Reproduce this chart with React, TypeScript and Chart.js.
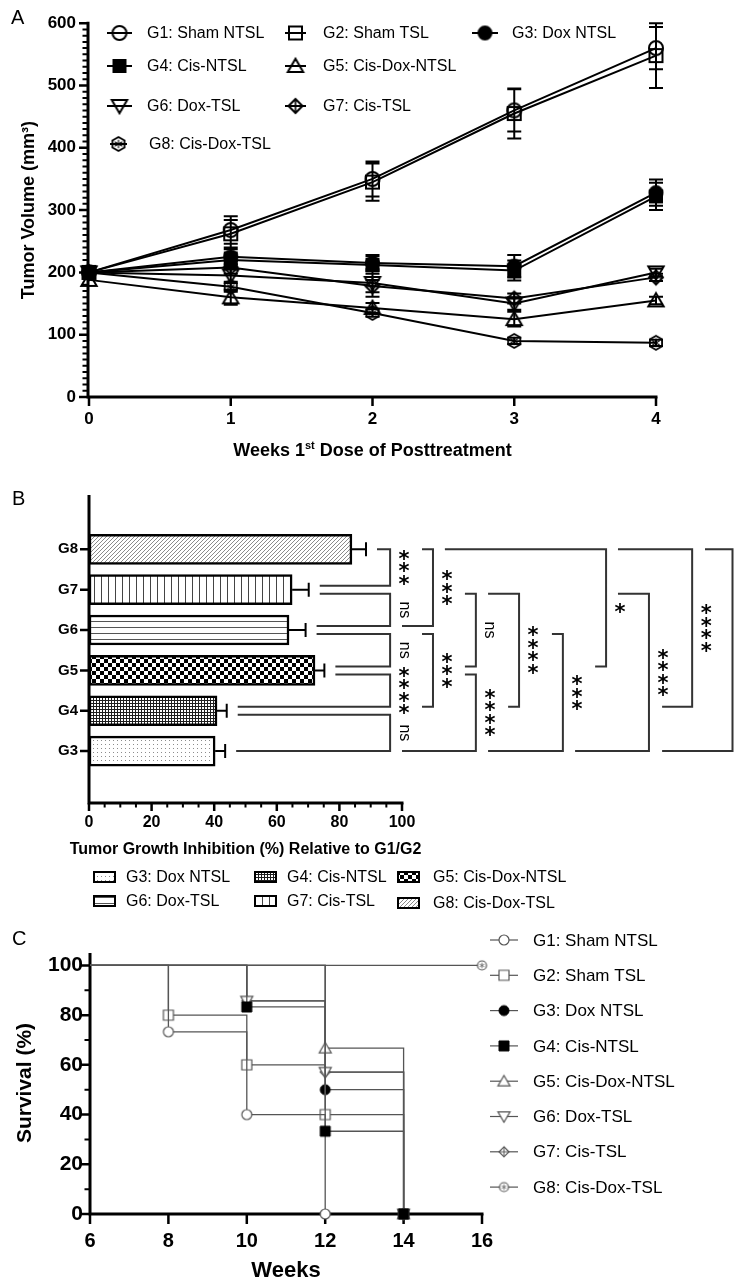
import React, { useEffect, useRef } from "react";
import { Chart, registerables } from "chart.js";

Chart.register(...registerables);

const FONT = "'Liberation Sans', Arial, Helvetica, sans-serif";

// ---------------- Panel A: tumor volume ----------------
const groupNames = [
  "G1: Sham NTSL",
  "G2: Sham TSL",
  "G3: Dox NTSL",
  "G4: Cis-NTSL",
  "G5: Cis-Dox-NTSL",
  "G6: Dox-TSL",
  "G7: Cis-TSL",
  "G8: Cis-Dox-TSL",
];
const weeksA = [0, 1, 2, 3, 4];
const volumeTicks = [0, 100, 200, 300, 400, 500, 600];
const volumeMinorStep = 10;
const volG1 = [200, 268, 350, 460, 560];
const volG2 = [200, 262, 345, 455, 548];
const volG3 = [200, 225, 215, 210, 328];
const volG4 = [200, 220, 212, 203, 322];
const volG5 = [188, 160, 143, 125, 155];
const volG6 = [200, 195, 183, 150, 200];
const volG7 = [200, 208, 178, 158, 192];
const volG8 = [200, 177, 135, 90, 87];
const semG1 = [0, 22, 28, 34, 34];
const semG2 = [0, 22, 30, 40, 52];
const semG3 = [0, 12, 13, 18, 21];
const semG4 = [0, 12, 14, 16, 22];
const semG5 = [0, 12, 8, 12, 6];
const semG6 = [0, 12, 22, 10, 6];
const semG7 = [0, 10, 10, 8, 6];
const semG8 = [0, 8, 6, 5, 5];

// ---------------- Panel B: tumor growth inhibition ----------------
const tgiGroups = ["G3", "G4", "G5", "G6", "G7", "G8"];
const tgiValues = [40.3, 40.9, 72.2, 63.9, 64.9, 84.0];
const tgiErrors = [3.2, 3.1, 3.0, 5.3, 5.3, 4.5];
const tgiTicks = [0, 20, 40, 60, 80, 100];
const tgiMinorStep = 5;
const tgiLegend = [
  "G3: Dox NTSL",
  "G4: Cis-NTSL",
  "G5: Cis-Dox-NTSL",
  "G6: Dox-TSL",
  "G7: Cis-TSL",
  "G8: Cis-Dox-TSL",
];
const sigTop = ["G8", "G7", "G6", "G5", "G4", "G8", "G6", "G7", "G5", "G7", "G6", "G8", "G7", "G8", "G8"];
const sigBottom = ["G7", "G6", "G5", "G4", "G3", "G6", "G4", "G5", "G3", "G4", "G3", "G5", "G3", "G4", "G3"];
const sigLabels = ["***", "ns", "ns", "****", "ns", "***", "***", "ns", "****", "****", "***", "*", "****", "****", "****"];

// ---------------- Panel C: survival ----------------
const survivalTicks = [0, 20, 40, 60, 80, 100];
const survivalMinorStep = 10;
const weekTicksC = [6, 8, 10, 12, 14, 16];
const survWeeksG1 = [6, 8, 10, 12];
const survG1 = [100, 73.3, 40, 0];
const survWeeksG2 = [6, 8, 10, 12, 14];
const survG2 = [100, 80, 60, 40, 0];
const survWeeksG3 = [6, 12, 14];
const survG3 = [100, 50, 0];
const survWeeksG4 = [6, 10, 12, 14];
const survG4 = [100, 83.3, 33.3, 0];
const survWeeksG5 = [6, 12, 14];
const survG5 = [100, 66.7, 0];
const survWeeksG6 = [6, 10, 12, 14];
const survG6 = [100, 85.7, 57.1, 0];
const survWeeksG7 = [6, 10, 12, 14];
const survG7 = [100, 85.7, 57.1, 0];
const survWeeksG8 = [6, 16];
const survG8 = [100, 100];

// ---------------- helpers ----------------
function makeMarker(kind: string, d: number, stroke: string, fill: string | null, lw: number): HTMLCanvasElement {
  const S = Math.round(d + lw * 2 + 4);
  const c = document.createElement("canvas");
  c.width = S;
  c.height = S;
  const g = c.getContext("2d")!;
  const cx = S / 2, cy = S / 2, r = d / 2;
  g.lineWidth = lw;
  g.strokeStyle = stroke;
  g.lineJoin = "miter";
  g.beginPath();
  switch (kind) {
    case "circle":
    case "circleStar":
      g.arc(cx, cy, r, 0, Math.PI * 2);
      break;
    case "square":
      g.rect(cx - r, cy - r, d, d);
      break;
    case "triUp":
      g.moveTo(cx, cy - r * 1.05);
      g.lineTo(cx + r * 1.1, cy + r * 0.85);
      g.lineTo(cx - r * 1.1, cy + r * 0.85);
      g.closePath();
      break;
    case "triDown":
      g.moveTo(cx, cy + r * 1.05);
      g.lineTo(cx + r * 1.1, cy - r * 0.85);
      g.lineTo(cx - r * 1.1, cy - r * 0.85);
      g.closePath();
      break;
    case "diamondCross":
      g.moveTo(cx, cy - r);
      g.lineTo(cx + r, cy);
      g.lineTo(cx, cy + r);
      g.lineTo(cx - r, cy);
      g.closePath();
      break;
    case "hexStar":
      for (let k = 0; k < 6; k++) {
        const a = Math.PI / 6 + (k * Math.PI) / 3;
        const px = cx + r * Math.cos(a), py = cy + r * Math.sin(a);
        if (k) g.lineTo(px, py);
        else g.moveTo(px, py);
      }
      g.closePath();
      break;
  }
  if (fill) {
    g.fillStyle = fill;
    g.fill();
  }
  g.stroke();
  if (kind === "diamondCross") {
    g.beginPath();
    g.lineWidth = lw * 0.8;
    g.moveTo(cx, cy - r);
    g.lineTo(cx, cy + r);
    g.moveTo(cx - r, cy);
    g.lineTo(cx + r, cy);
    g.stroke();
  }
  if (kind === "hexStar" || kind === "circleStar") {
    g.beginPath();
    g.lineWidth = lw * 0.6;
    for (let k = 0; k < 3; k++) {
      const a = Math.PI / 2 + (k * Math.PI) / 3;
      const q = r * 0.62;
      g.moveTo(cx - q * Math.cos(a), cy - q * Math.sin(a));
      g.lineTo(cx + q * Math.cos(a), cy + q * Math.sin(a));
    }
    g.stroke();
  }
  return c;
}

function makeTile(kind: string): HTMLCanvasElement {
  const c = document.createElement("canvas");
  const g = c.getContext("2d")!;
  const bg = (w: number, h: number) => {
    c.width = w;
    c.height = h;
    g.fillStyle = "#fff";
    g.fillRect(0, 0, w, h);
  };
  switch (kind) {
    case "dots":
      bg(4, 4);
      g.fillStyle = "#8c8c8c";
      g.fillRect(1, 1, 1, 1);
      break;
    case "mesh":
      bg(3, 3);
      g.fillStyle = "#1e1e1e";
      g.fillRect(0, 0, 3, 1);
      g.fillRect(0, 0, 1, 3);
      break;
    case "check":
      bg(8, 8);
      g.fillStyle = "#000";
      g.fillRect(0, 0, 4, 4);
      g.fillRect(4, 4, 4, 4);
      break;
    case "hlines":
      bg(4, 6);
      g.fillStyle = "#555";
      g.fillRect(0, 2, 4, 1);
      break;
    case "vlines":
      bg(7, 4);
      g.fillStyle = "#444";
      g.fillRect(3, 0, 1, 4);
      break;
    case "diag":
      bg(4, 4);
      g.fillStyle = "#8a8a8a";
      for (let i = 0; i < 4; i++) g.fillRect(i, 3 - i, 1, 1);
      break;
  }
  return c;
}

function strokeLines(ctx: CanvasRenderingContext2D, segs: number[][], lw: number, color: string) {
  ctx.save();
  ctx.strokeStyle = color;
  ctx.lineWidth = lw;
  ctx.lineCap = "butt";
  ctx.beginPath();
  for (const [x1, y1, x2, y2] of segs) {
    ctx.moveTo(x1, y1);
    ctx.lineTo(x2, y2);
  }
  ctx.stroke();
  ctx.restore();
}

function drawText(ctx: CanvasRenderingContext2D, text: string, x: number, y: number, font: string, align: CanvasTextAlign = "left", baseline: CanvasTextBaseline = "middle", rot = 0) {
  ctx.save();
  ctx.font = font;
  ctx.fillStyle = "#000";
  ctx.textAlign = align;
  ctx.textBaseline = baseline;
  ctx.translate(x, y);
  if (rot) ctx.rotate(rot);
  ctx.fillText(text, 0, 0);
  ctx.restore();
}

function drawMarker(ctx: CanvasRenderingContext2D, m: HTMLCanvasElement, x: number, y: number) {
  ctx.drawImage(m, x - m.width / 2, y - m.height / 2);
}

function minorValues(first: number, last: number, step: number) {
  const out: number[] = [];
  for (let v = first; v <= last + 1e-9; v += step) out.push(Math.round(v * 1000) / 1000);
  return out;
}

// ---------------- Panel A ----------------
const LEG_A = [
  { x0: 107, x1: 132, tx: 147, y: 33 },
  { x0: 285, x1: 306, tx: 323, y: 33 },
  { x0: 472, x1: 498, tx: 512, y: 33 },
  { x0: 107, x1: 132, tx: 147, y: 66 },
  { x0: 285, x1: 306, tx: 323, y: 66 },
  { x0: 107, x1: 132, tx: 147, y: 106 },
  { x0: 285, x1: 306, tx: 323, y: 106 },
  { x0: 110, x1: 127, tx: 149, y: 144 },
];

function buildA(canvas: HTMLCanvasElement): any {
  const vols = [volG1, volG2, volG3, volG4, volG5, volG6, volG7, volG8];
  const sems = [semG1, semG2, semG3, semG4, semG5, semG6, semG7, semG8];
  const markers = [
    makeMarker("circle", 14, "#000", null, 2),
    makeMarker("square", 13, "#000", null, 2),
    makeMarker("circle", 13, "#000", "#000", 2),
    makeMarker("square", 12, "#000", "#000", 2),
    makeMarker("triUp", 14, "#000", null, 2),
    makeMarker("triDown", 14, "#000", null, 2),
    makeMarker("diamondCross", 14, "#000", null, 2),
    makeMarker("hexStar", 14, "#000", null, 1.8),
  ];
  const plugin = {
    id: "panelA",
    beforeDatasetsDraw(chart: any) {
      const { ctx, chartArea: ca } = chart;
      const x = chart.scales.x, y = chart.scales.y;
      const L = ca.left - 1, B = ca.bottom;
      strokeLines(ctx, [[L, ca.top - 1.5, L, B + 1.5], [L - 1.5, B, ca.right + 1.5, B]], 3, "#000");
      const major: number[][] = [], minor: number[][] = [];
      minorValues(volumeTicks[0], volumeTicks[volumeTicks.length - 1], volumeMinorStep).forEach((v) => {
        const py = y.getPixelForValue(v);
        if (volumeTicks.includes(v)) major.push([L - 9, py, L, py]);
        else minor.push([L - 5.5, py, L, py]);
      });
      strokeLines(ctx, major, 2.5, "#000");
      strokeLines(ctx, minor, 2, "#000");
      strokeLines(ctx, weeksA.map((w) => { const px = x.getPixelForValue(w); return [px, B, px, B + 9]; }), 2.5, "#000");
      const eb: number[][] = [];
      vols.forEach((vals, i) =>
        vals.forEach((v, j) => {
          const s = sems[i][j];
          if (!s) return;
          const px = x.getPixelForValue(weeksA[j]);
          const t = y.getPixelForValue(v + s), b = y.getPixelForValue(v - s);
          eb.push([px, t, px, b], [px - 7, t, px + 7, t], [px - 7, b, px + 7, b]);
        })
      );
      strokeLines(ctx, eb, 2, "#000");
    },
    afterDraw(chart: any) {
      const { ctx, chartArea: ca } = chart;
      LEG_A.forEach((p, i) => {
        strokeLines(ctx, [[p.x0, p.y, p.x1, p.y]], 2, "#000");
        drawMarker(ctx, markers[i], (p.x0 + p.x1) / 2, p.y);
        drawText(ctx, groupNames[i], p.tx, p.y + 1, `16px ${FONT}`);
      });
      drawText(ctx, "Tumor Volume (mm³)", 29, (ca.top + ca.bottom) / 2, `bold 18px ${FONT}`, "center", "middle", -Math.PI / 2);
      ctx.save();
      ctx.fillStyle = "#000";
      ctx.textBaseline = "alphabetic";
      const big = `bold 18px ${FONT}`, small = `bold 11px ${FONT}`;
      const p1 = "Weeks 1", p2 = "st", p3 = " Dose of Posttreatment";
      ctx.font = big;
      const w1 = ctx.measureText(p1).width, w3 = ctx.measureText(p3).width;
      ctx.font = small;
      const w2 = ctx.measureText(p2).width;
      let sx = (ca.left + ca.right) / 2 - (w1 + w2 + w3) / 2;
      const by = 456;
      ctx.font = big;
      ctx.fillText(p1, sx, by);
      sx += w1;
      ctx.font = small;
      ctx.fillText(p2, sx, by - 7);
      sx += w2;
      ctx.font = big;
      ctx.fillText(p3, sx, by);
      ctx.restore();
      drawText(ctx, "A", 11, 24, `20px ${FONT}`, "left", "alphabetic");
    },
  };
  return {
    type: "line",
    data: {
      datasets: vols.map((v, i) => ({
        label: groupNames[i],
        data: v.map((val, j) => ({ x: weeksA[j], y: val })),
        borderColor: "#000",
        borderWidth: 2,
        pointStyle: markers[i],
        pointRadius: 7,
        clip: false,
        tension: 0,
      })),
    },
    options: {
      animation: false,
      responsive: false,
      events: [],
      layout: { padding: { left: 0, right: 78, top: 17, bottom: 0 } },
      scales: {
        x: {
          type: "linear",
          min: weeksA[0],
          max: weeksA[weeksA.length - 1],
          afterBuildTicks: (s: any) => { s.ticks = weeksA.map((v) => ({ value: v })); },
          afterFit: (s: any) => { s.height = 78; },
          grid: { display: false, drawTicks: false },
          border: { display: false },
          ticks: { font: { family: FONT, size: 17, weight: "bold" }, color: "#000", padding: 12 },
        },
        y: {
          type: "linear",
          min: volumeTicks[0],
          max: volumeTicks[volumeTicks.length - 1],
          afterBuildTicks: (s: any) => { s.ticks = volumeTicks.map((v) => ({ value: v })); },
          afterFit: (s: any) => { s.width = 89; },
          grid: { display: false, drawTicks: false },
          border: { display: false },
          ticks: { font: { family: FONT, size: 17, weight: "bold" }, color: "#000", padding: 13 },
        },
      },
      plugins: { legend: { display: false }, tooltip: { enabled: false } },
    },
    plugins: [plugin],
  };
}

// ---------------- Panel B ----------------
// bracket geometry in x-axis units: [column, top-arm start, bottom-arm start] (null = just past the error bar)
const BRACKET_GEOM: (number | null)[][] = [
  [96.2, null, null],
  [96.2, null, null],
  [96.2, null, null],
  [96.2, null, null],
  [96.2, null, null],
  [109.9, 106.4, 100],
  [109.9, 106.4, 106.4],
  [123.6, 120.1, 120.1],
  [123.6, 120.1, 100],
  [137.4, 127.5, 133.9],
  [151.4, 147.9, 127.5],
  [165.2, 113.7, 161.7],
  [178.9, 169, 155.3],
  [192.7, 169, 183.1],
  [205.6, 196.8, 183.1],
];
const LEG_B = [
  { x: 94, tx: 126, y: 402 },
  { x: 255, tx: 287, y: 402 },
  { x: 398, tx: 433, y: 402 },
  { x: 94, tx: 126, y: 426 },
  { x: 255, tx: 287, y: 426 },
  { x: 398, tx: 433, y: 428 },
];

function buildB(canvas: HTMLCanvasElement): any {
  const ctx0 = canvas.getContext("2d")!;
  const tiles = ["dots", "mesh", "check", "hlines", "vlines", "diag"].map(makeTile);
  const patterns = tiles.map((t) => ctx0.createPattern(t, "repeat")!);
  const plugin = {
    id: "panelB",
    beforeDatasetsDraw(chart: any) {
      const { ctx, chartArea: ca } = chart;
      const x = chart.scales.x, y = chart.scales.y;
      const L = ca.left, B = ca.bottom;
      strokeLines(ctx, [[L, ca.top, L, B + 1.5], [L - 1.5, B, ca.right + 1.5, B]], 3, "#000");
      strokeLines(ctx, tgiGroups.map((_, i) => { const py = y.getPixelForValue(i); return [L - 9, py, L, py]; }), 2.5, "#000");
      const major: number[][] = [], minor: number[][] = [];
      minorValues(tgiTicks[0], tgiTicks[tgiTicks.length - 1], tgiMinorStep).forEach((v) => {
        const px = x.getPixelForValue(v);
        if (tgiTicks.includes(v)) major.push([px, B, px, B + 8]);
        else minor.push([px, B, px, B + 4.5]);
      });
      strokeLines(ctx, major, 2.5, "#000");
      strokeLines(ctx, minor, 2, "#000");
    },
    afterDatasetsDraw(chart: any) {
      const { ctx } = chart;
      const x = chart.scales.x, y = chart.scales.y;
      const eb: number[][] = [];
      tgiValues.forEach((v, i) => {
        const py = y.getPixelForValue(i);
        const p0 = x.getPixelForValue(v), p1 = x.getPixelForValue(v + tgiErrors[i]);
        eb.push([p0, py, p1, py], [p1, py - 7, p1, py + 7]);
      });
      strokeLines(ctx, eb, 2, "#000");
      const yc = (g: string) => y.getPixelForValue(tgiGroups.indexOf(g));
      const errEnd = (g: string) => { const i = tgiGroups.indexOf(g); return x.getPixelForValue(tgiValues[i] + tgiErrors[i]) + 11; };
      const segs: number[][] = [];
      sigTop.forEach((t, i) => {
        const b = sigBottom[i];
        const [col, ts, bs] = BRACKET_GEOM[i];
        const cx = Math.min(x.getPixelForValue(col as number), chart.width - 1.5);
        const ty = yc(t) + (t === "G8" ? 0 : 4);
        const by = yc(b) - (b === "G3" ? 0 : 4);
        const tx0 = ts === null ? errEnd(t) : x.getPixelForValue(ts);
        const bx0 = bs === null ? errEnd(b) : x.getPixelForValue(bs);
        segs.push([tx0, ty, cx + 1, ty], [cx, ty, cx, by], [bx0, by, cx + 1, by]);
        const lx = cx + 14, ly = (ty + by) / 2;
        const lab = sigLabels[i];
        if (lab === "ns") {
          drawText(ctx, "ns", lx, ly, `16px ${FONT}`, "center", "middle", Math.PI / 2);
        } else {
          ctx.save();
          ctx.font = `bold 21px 'DejaVu Sans', sans-serif`;
          ctx.fillStyle = "#000";
          ctx.textAlign = "center";
          ctx.textBaseline = "alphabetic";
          const m = ctx.measureText("*");
          const off = (m.actualBoundingBoxAscent - m.actualBoundingBoxDescent) / 2;
          const n = lab.length, sp = 12.5;
          for (let k = 0; k < n; k++) {
            const sy = ly + (k - (n - 1) / 2) * sp;
            ctx.fillText("*", lx, sy + off);
          }
          ctx.restore();
        }
      });
      strokeLines(ctx, segs, 2, "#333");
    },
    afterDraw(chart: any) {
      const { ctx, chartArea: ca } = chart;
      drawText(ctx, "Tumor Growth Inhibition (%) Relative to G1/G2", (ca.left + ca.right) / 2, 379, `bold 16px ${FONT}`, "center", "alphabetic");
      LEG_B.forEach((p, i) => {
        ctx.save();
        ctx.fillStyle = patterns[i];
        ctx.fillRect(p.x, p.y - 5, 21, 10);
        ctx.strokeStyle = "#000";
        ctx.lineWidth = 2;
        ctx.strokeRect(p.x, p.y - 5, 21, 10);
        ctx.restore();
        drawText(ctx, tgiLegend[i], p.tx, p.y + 1, `16px ${FONT}`);
      });
      drawText(ctx, "B", 12, 30, `20px ${FONT}`, "left", "alphabetic");
    },
  };
  return {
    type: "bar",
    data: {
      datasets: [
        {
          data: tgiValues.map((v, i) => ({ x: v, y: i })),
          backgroundColor: patterns,
          borderColor: "#000",
          borderWidth: 2.5,
          borderSkipped: false,
          barThickness: 30,
        },
      ],
    },
    options: {
      indexAxis: "y",
      animation: false,
      responsive: false,
      events: [],
      layout: { padding: { left: 0, right: 734 - 402, top: 15, bottom: 0 } },
      scales: {
        x: {
          type: "linear",
          min: tgiTicks[0],
          max: tgiTicks[tgiTicks.length - 1],
          afterBuildTicks: (s: any) => { s.ticks = tgiTicks.map((v) => ({ value: v })); },
          afterFit: (s: any) => { s.height = 440 - 328; },
          grid: { display: false, drawTicks: false },
          border: { display: false },
          ticks: { font: { family: FONT, size: 16, weight: "bold" }, color: "#000", padding: 10 },
        },
        y: {
          type: "linear",
          min: -0.65,
          max: 5.71,
          afterBuildTicks: (s: any) => { s.ticks = tgiGroups.map((_, i) => ({ value: i })); },
          afterFit: (s: any) => { s.width = 89; },
          grid: { display: false, drawTicks: false },
          border: { display: false },
          ticks: {
            callback: (v: any) => tgiGroups[v] ?? "",
            font: { family: FONT, size: 15, weight: "bold" },
            color: "#000",
            padding: 11,
          },
        },
      },
      plugins: { legend: { display: false }, tooltip: { enabled: false } },
    },
    plugins: [plugin],
  };
}

// ---------------- Panel C ----------------
const LEG_C_X0 = 490, LEG_C_X1 = 518, LEG_C_TX = 533, LEG_C_Y0 = 25, LEG_C_DY = 35.3;

function buildC(canvas: HTMLCanvasElement): any {
  const weeks = [survWeeksG1, survWeeksG2, survWeeksG3, survWeeksG4, survWeeksG5, survWeeksG6, survWeeksG7, survWeeksG8];
  const surv = [survG1, survG2, survG3, survG4, survG5, survG6, survG7, survG8];
  const gray = "#555";
  const markers = [
    makeMarker("circle", 10, gray, "#fff", 1.2),
    makeMarker("square", 10, gray, "#fff", 1.2),
    makeMarker("circle", 10, "#000", "#000", 1),
    makeMarker("square", 10, "#000", "#000", 1),
    makeMarker("triUp", 11, gray, "#fff", 1.2),
    makeMarker("triDown", 11, gray, "#fff", 1.2),
    makeMarker("diamondCross", 10, gray, "#fff", 1.2),
    makeMarker("circleStar", 9, gray, "#fff", 1.2),
  ];
  const plugin = {
    id: "panelC",
    beforeDatasetsDraw(chart: any) {
      const { ctx, chartArea: ca } = chart;
      const x = chart.scales.x, y = chart.scales.y;
      const L = ca.left, B = ca.bottom;
      strokeLines(ctx, [[L, ca.top, L, B + 1.5], [L - 1.5, B, ca.right + 1.5, B]], 3, "#000");
      const major: number[][] = [], minor: number[][] = [];
      minorValues(survivalTicks[0], survivalTicks[survivalTicks.length - 1], survivalMinorStep).forEach((v) => {
        const py = y.getPixelForValue(v);
        if (survivalTicks.includes(v)) major.push([L - 10, py, L, py]);
        else minor.push([L - 5.5, py, L, py]);
      });
      strokeLines(ctx, major, 2.5, "#000");
      strokeLines(ctx, minor, 2, "#000");
      strokeLines(ctx, weekTicksC.map((w) => { const px = x.getPixelForValue(w); return [px, B, px, B + 10]; }), 2.5, "#000");
    },
    afterDraw(chart: any) {
      const { ctx, chartArea: ca } = chart;
      groupNames.forEach((name, i) => {
        const py = LEG_C_Y0 + i * LEG_C_DY;
        strokeLines(ctx, [[LEG_C_X0, py, LEG_C_X1, py]], 1.2, gray);
        drawMarker(ctx, markers[i], (LEG_C_X0 + LEG_C_X1) / 2, py);
        drawText(ctx, name, LEG_C_TX, py + 1, `17px ${FONT}`);
      });
      drawText(ctx, "Weeks", (ca.left + ca.right) / 2, 362, `bold 22px ${FONT}`, "center", "alphabetic");
      drawText(ctx, "Survival (%)", 25, 168, `bold 21px ${FONT}`, "center", "middle", -Math.PI / 2);
      drawText(ctx, "C", 12, 30, `20px ${FONT}`, "left", "alphabetic");
    },
  };
  return {
    type: "line",
    data: {
      datasets: weeks.map((w, i) => ({
        label: groupNames[i],
        data: w.map((wx, j) => ({ x: wx, y: surv[i][j] })),
        stepped: "before",
        borderColor: gray,
        borderWidth: 1.3,
        pointStyle: markers[i],
        pointRadius: w.map((_, j) => (j === 0 ? 0 : 5)),
        clip: false,
        order: i === 3 ? -1 : 0,
      })),
    },
    options: {
      animation: false,
      responsive: false,
      events: [],
      layout: { padding: { left: 0, right: 734 - 482, top: 38, bottom: 0 } },
      scales: {
        x: {
          type: "linear",
          min: weekTicksC[0],
          max: weekTicksC[weekTicksC.length - 1],
          afterBuildTicks: (s: any) => { s.ticks = weekTicksC.map((v) => ({ value: v })); },
          afterFit: (s: any) => { s.height = 366 - 299; },
          grid: { display: false, drawTicks: false },
          border: { display: false },
          ticks: { font: { family: FONT, size: 20, weight: "bold" }, color: "#000", padding: 15 },
        },
        y: {
          type: "linear",
          min: 0,
          max: 105,
          afterBuildTicks: (s: any) => { s.ticks = survivalTicks.map((v) => ({ value: v })); },
          afterFit: (s: any) => { s.width = 90; },
          grid: { display: false, drawTicks: false },
          border: { display: false },
          ticks: { font: { family: FONT, size: 21, weight: "bold" }, color: "#000", padding: 7 },
        },
      },
      plugins: { legend: { display: false }, tooltip: { enabled: false } },
    },
    plugins: [plugin],
  };
}

// ---------------- components ----------------
function ChartCanvas({ width, height, top, build }: { width: number; height: number; top: number; build: (c: HTMLCanvasElement) => any }) {
  const ref = useRef<HTMLCanvasElement>(null);
  useEffect(() => {
    const canvas = ref.current!;
    const chart = new Chart(canvas, build(canvas));
    return () => chart.destroy();
  }, []);
  return (
    <canvas
      ref={ref}
      width={width}
      height={height}
      style={{ position: "absolute", left: 0, top, width, height, display: "block" }}
    />
  );
}

export default function App() {
  return (
    <div style={{ position: "absolute", left: 0, top: 0, width: 734, height: 1281, background: "#fff", overflow: "hidden" }}>
      <ChartCanvas width={734} height={475} top={0} build={buildA} />
      <ChartCanvas width={734} height={440} top={475} build={buildB} />
      <ChartCanvas width={734} height={366} top={915} build={buildC} />
    </div>
  );
}
